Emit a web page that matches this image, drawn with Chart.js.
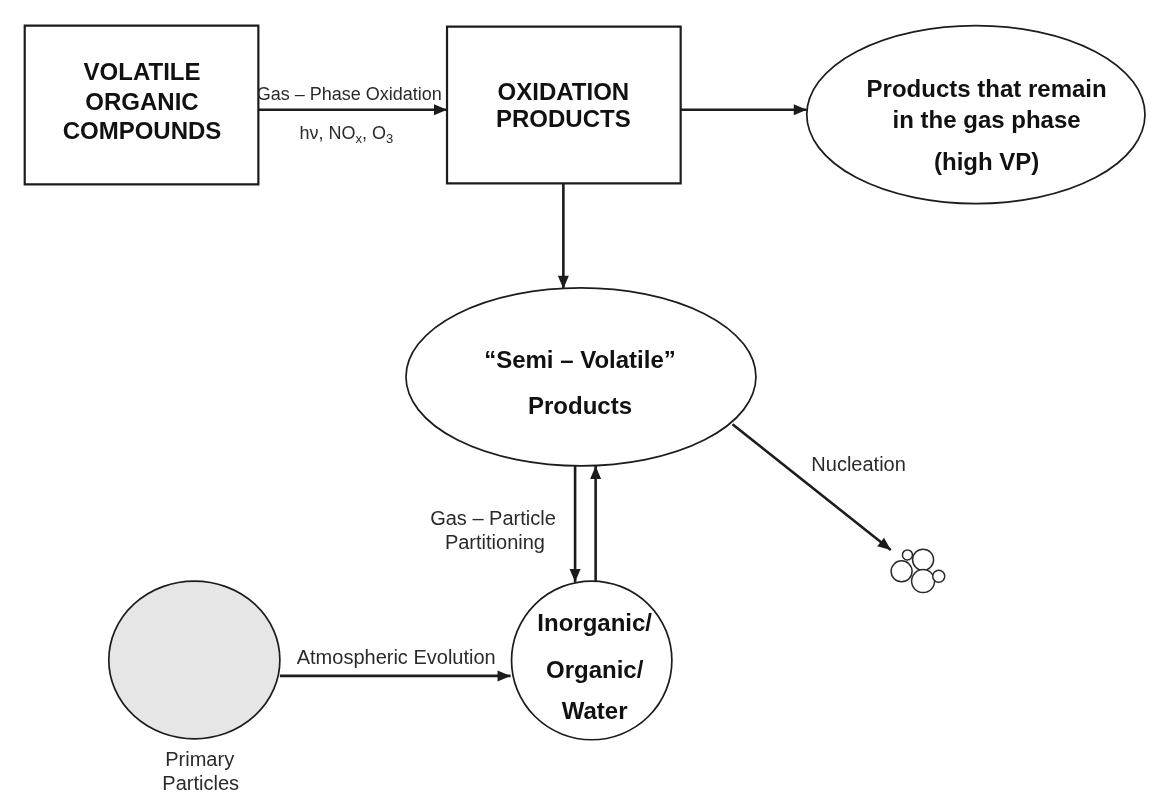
<!DOCTYPE html>
<html>
<head>
<meta charset="utf-8">
<script src="https://cdn.jsdelivr.net/npm/chart.js@4.4.1/dist/chart.umd.min.js"></script>
<style>
  html, body { margin: 0; padding: 0; background: #fff; }
  #wrap { width: 1158px; height: 805px; }
</style>
</head>
<body>
<div id="wrap"><canvas id="diagram" width="1158" height="805"></canvas></div>
<script>
// Diagram nodes (units are picture pixels, y grows downward)
const nodeShapes = ['box', 'box', 'ellipse', 'ellipse', 'ellipse', 'ellipse'];
const nodeText = [
  ['VOLATILE', 'ORGANIC', 'COMPOUNDS'],
  ['OXIDATION', 'PRODUCTS'],
  ['Products that remain', 'in the gas phase', '(high VP)'],
  ['\u201CSemi \u2013 Volatile\u201D', 'Products'],
  ['Inorganic/', 'Organic/', 'Water'],
  []
];
const nodeCx = [131.5, 563.5, 985, 581, 592, 185.5];
const nodeCy = [95, 95, 105, 376, 669, 668.5];
const nodeRx = [119.5, 119.5, 173, 179, 82, 87.5];
const nodeRy = [82, 81, 92, 92, 82, 81.5];
const nodeTextX = [132, 563, 996, 580, 595, 0];
const nodeTextY = [[62, 93, 123], [83, 111], [80, 112, 155], [360, 408], [632, 680, 723], []];
const nodeFill = ['#fff', '#fff', '#fff', '#fff', '#fff', '#e6e6e6'];

// Arrows: start and end points
const arrowFrom = [[251, 100], [683, 100], [563, 176], [736, 425], [575, 468], [596, 588], [273, 685]];
const arrowTo = [[444, 100], [812, 100], [563, 285], [898, 555], [575, 588], [596, 468], [509, 685]];

// Free labels
const labelText = ['Gas \u2013 Phase Oxidation', 'Nucleation', 'Gas \u2013 Particle', 'Partitioning',
  'Atmospheric Evolution', 'Primary', 'Particles'];
const labelX = [344, 865, 491, 493, 392, 191, 192];
const labelY = [85, 468, 523, 548, 667, 772, 797];
const labelSize = [18, 20, 20, 20, 20, 20, 20];

// Nucleated particle cluster
const bubbleX = [915, 931, 909, 931, 947];
const bubbleY = [560, 565, 577, 587, 582];
const bubbleR = [5, 10.5, 10.5, 11.5, 6];

const FONT = '"Liberation Sans", Arial, Helvetica, sans-serif';
const INK = '#1c1c1c';

function drawSubscripted(ctx, parts, cx, cy, size) {
  // parts: [text, isSub]
  const main = size + 'px ' + FONT;
  const sub = Math.round(size * 0.72) + 'px ' + FONT;
  let total = 0;
  parts.forEach(([t, s]) => { ctx.font = s ? sub : main; total += ctx.measureText(t).width; });
  let xPos = cx - total / 2;
  ctx.textAlign = 'left';
  parts.forEach(([t, s]) => {
    ctx.font = s ? sub : main;
    ctx.fillText(t, xPos, s ? cy + size * 0.3 : cy);
    xPos += ctx.measureText(t).width;
  });
}

const diagramPlugin = {
  id: 'diagram',
  beforeDatasetsDraw(chart) {
    const { ctx, scales: { x, y } } = chart;
    nodeShapes.forEach((shape, i) => {
      const cx = x.getPixelForValue(nodeCx[i]);
      const cy = y.getPixelForValue(nodeCy[i]);
      const rx = Math.abs(x.getPixelForValue(nodeCx[i] + nodeRx[i]) - cx);
      const ry = Math.abs(y.getPixelForValue(nodeCy[i] + nodeRy[i]) - cy);
      ctx.save();
      ctx.beginPath();
      if (shape === 'box') ctx.rect(cx - rx, cy - ry, 2 * rx, 2 * ry);
      else ctx.ellipse(cx, cy, rx, ry, 0, 0, Math.PI * 2);
      ctx.fillStyle = nodeFill[i];
      ctx.fill();
      ctx.lineWidth = shape === 'box' ? 2.2 : 1.7;
      ctx.strokeStyle = INK;
      ctx.stroke();
      ctx.restore();
    });
  },
  afterDatasetsDraw(chart) {
    const { ctx, scales: { x, y } } = chart;
    ctx.save();

    // arrowheads at the end of each arrow line
    chart.data.datasets.forEach((ds, i) => {
      if (!ds.isArrow) return;
      const pts = chart.getDatasetMeta(i).data;
      const a = pts[0], b = pts[pts.length - 1];
      const ang = Math.atan2(b.y - a.y, b.x - a.x);
      const len = 13, half = 5.5;
      ctx.beginPath();
      ctx.moveTo(b.x, b.y);
      ctx.lineTo(b.x - len * Math.cos(ang) + half * Math.sin(ang), b.y - len * Math.sin(ang) - half * Math.cos(ang));
      ctx.lineTo(b.x - len * Math.cos(ang) - half * Math.sin(ang), b.y - len * Math.sin(ang) + half * Math.cos(ang));
      ctx.closePath();
      ctx.fillStyle = INK;
      ctx.fill();
    });

    // node captions
    ctx.fillStyle = '#111';
    ctx.textAlign = 'center';
    ctx.textBaseline = 'middle';
    ctx.font = 'bold 24px ' + FONT;
    nodeText.forEach((lines, i) => {
      lines.forEach((t, j) => {
        ctx.fillText(t, x.getPixelForValue(nodeTextX[i]), y.getPixelForValue(nodeTextY[i][j]));
      });
    });

    // edge labels
    ctx.fillStyle = '#2a2a2a';
    labelText.forEach((t, i) => {
      ctx.font = labelSize[i] + 'px ' + FONT;
      ctx.textAlign = 'center';
      ctx.fillText(t, x.getPixelForValue(labelX[i]), y.getPixelForValue(labelY[i]));
    });
    drawSubscripted(ctx, [['h\u03BD, NO', false], ['x', true], [', O', false], ['3', true]],
      x.getPixelForValue(341), y.getPixelForValue(125), 18);

    ctx.restore();
  }
};

const arrowSets = arrowFrom.map((p, i) => ({
  type: 'scatter',
  isArrow: true,
  data: [{ x: p[0], y: p[1] }, { x: arrowTo[i][0], y: arrowTo[i][1] }],
  showLine: true,
  borderColor: INK,
  borderWidth: 2.6,
  pointRadius: 0,
  fill: false
}));

const bubbleSet = {
  type: 'bubble',
  data: bubbleX.map((v, i) => ({ x: v, y: bubbleY[i], r: bubbleR[i] })),
  backgroundColor: 'rgba(255,255,255,1)',
  borderColor: '#2a2a2a',
  borderWidth: 1.5
};

new Chart(document.getElementById('diagram'), {
  type: 'scatter',
  data: { datasets: [...arrowSets, bubbleSet] },
  options: {
    responsive: false,
    animation: false,
    events: [],
    layout: { padding: 0 },
    plugins: { legend: { display: false }, tooltip: { enabled: false } },
    scales: {
      x: { type: 'linear', min: 0, max: 1158, display: false },
      y: { type: 'linear', min: 0, max: 805, reverse: true, display: false }
    }
  },
  plugins: [diagramPlugin]
});
</script>
</body>
</html>
